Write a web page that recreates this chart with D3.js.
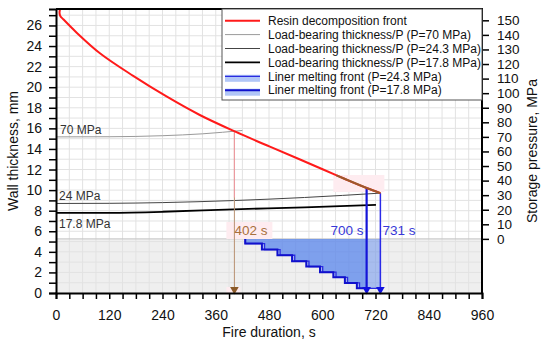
<!DOCTYPE html>
<html><head><meta charset="utf-8">
<script src="https://cdn.jsdelivr.net/npm/d3@7"></script>
<style>body{margin:0;background:#fff}svg{font-family:"Liberation Sans",Arial,sans-serif}</style>
</head><body><svg id="c" width="550" height="344"></svg>
<script>
// ---- data ----
const xTicks = [0,120,240,360,480,600,720,840,960];
const yTicks = [0,2,4,6,8,10,12,14,16,18,20,22,24,26];
const pTicks = [0,10,20,30,40,50,60,70,80,90,100,110,120,130,140,150];
const linerThickness = 5.26; // mm, pressure 0 level
// Resin decomposition front [s, mm]
const resinT = [9,8,10,16.5,46.6,99,174,249,324,403,482,546,602,650,700,731];
const resinY = [27.6,27.2,26.9,26.6,25.3,23.3,21.1,19.1,17.3,15.7,14.22,13.05,12.0,11.1,10.2,9.71];
// Load-bearing thickness/P [s, MPa]
const lb70T = [0,120,240,330,420];
const lb70P = [70,70.1,70.8,72.1,74.4];
const lb243T = [0,120,240,400,560,731];
const lb243P = [24.3,24.4,24.9,26.3,28.4,31.4];
const lb178T = [0,120,240,400,560,721];
const lb178P = [17.8,17.9,18.6,20.3,21.6,23.4];
// Liner melting front (step) [s, mm]
const melt178T = [426.5,426.5,464,499,532,564,595,625,651,678,700];
const melt178Y = [5.26,4.80,4.22,3.67,3.09,2.57,2.02,1.52,0.98,0.45,0.45];
const melt243T = [426.5,426.5,470,505,538,570,601,631,657,684,731];
const melt243Y = [5.26,4.80,4.22,3.67,3.09,2.57,2.02,1.52,0.98,0.45,0.45];
const failTimes = [402,700,731];
const failLabels = ["402 s","700 s","731 s"];
const legendLabels = ["Resin decomposition front","Load-bearing thickness/P (P=70 MPa)","Load-bearing thickness/P (P=24.3 MPa)","Load-bearing thickness/P (P=17.8 MPa)","Liner melting front (P=24.3 MPa)","Liner melting front (P=17.8 MPa)"];
const pLabels = ["70 MPa","24 MPa","17.8 MPa"];

// ---- layout ----
const svg = d3.select("#c");
const L=56,R=482,T=9,B=293;
const x = d3.scaleLinear([0,960],[L,R]);
const y = d3.scaleLinear([0,27.6],[B,T]);
const yR = d3.scaleLinear([0,150],[y(linerThickness), y(26.5)]);
const zip=(a,b)=>a.map((v,i)=>[v,b[i]]);
const resin = zip(resinT,resinY);
function interp(pts,t){
  const s = pts.filter(p=>p[0]>=16);
  for(let i=0;i<s.length-1;i++){ if(t>=s[i][0]&&t<=s[i+1][0]){const f=(t-s[i][0])/(s[i+1][0]-s[i][0]);return s[i][1]+f*(s[i+1][1]-s[i][1]);} }
  return s[s.length-1][1];
}

// background band
svg.append("rect").attr("x",L).attr("y",y(linerThickness)).attr("width",R-L).attr("height",B-y(linerThickness)).attr("fill","#efefef");
// grid
const g = svg.append("g").attr("stroke","#e2e2e2").attr("stroke-width",1);
d3.range(30,960,30).forEach(v=>g.append("line").attr("x1",x(v)).attr("x2",x(v)).attr("y1",T).attr("y2",B));
d3.range(1,28,1).forEach(v=>g.append("line").attr("x1",L).attr("x2",R).attr("y1",y(v)).attr("y2",y(v)));
svg.append("line").attr("x1",L).attr("x2",R).attr("y1",y(linerThickness)).attr("y2",y(linerThickness)).attr("stroke","#c4c4c4");

// pink highlights
const pink="#feecf0";
svg.append("rect").attr("x",x(402)-8).attr("y",222).attr("width",46).attr("height",17).attr("fill",pink);
svg.append("rect").attr("x",x(402)-8).attr("y",B-6).attr("width",14).attr("height",6).attr("fill",pink);
svg.append("rect").attr("x",x(625)).attr("y",y(interp(resin,700))-13).attr("width",x(731)-x(625)+4).attr("height",17).attr("fill",pink);

// liner melting areas
const area = d3.area().x(d=>x(d[0])).y0(y(linerThickness)).y1(d=>y(d[1])).curve(d3.curveStepAfter);
const line = d3.line().x(d=>x(d[0])).y(d=>y(d[1]));
const m178 = zip(melt178T,melt178Y), m243 = zip(melt243T,melt243Y);
const fillC = "rgba(70,120,235,0.42)";
svg.append("path").attr("d",area(m243)).attr("fill",fillC);
svg.append("path").attr("d",area(m178)).attr("fill",fillC);
const stepLine = d3.line().x(d=>x(d[0])).y(d=>y(d[1])).curve(d3.curveStepAfter);
svg.append("path").attr("d",stepLine(m243)).attr("fill","none").attr("stroke","#2a2ae0").attr("stroke-width",1.3);
svg.append("path").attr("d",stepLine(m178)).attr("fill","none").attr("stroke","#1010cc").attr("stroke-width",2);

// load-bearing lines (in MPa on right scale)
const pline = d3.line().x(d=>x(d[0])).y(d=>yR(d[1])).curve(d3.curveMonotoneX);
svg.append("path").attr("d",pline(zip(lb70T,lb70P))).attr("fill","none").attr("stroke","#9a9a9a").attr("stroke-width",1);
svg.append("path").attr("d",pline(zip(lb243T,lb243P))).attr("fill","none").attr("stroke","#444").attr("stroke-width",1);
svg.append("path").attr("d",pline(zip(lb178T,lb178P))).attr("fill","none").attr("stroke","#000").attr("stroke-width",1.8);

// vertical failure lines
const tri = d3.symbol().type(d3.symbolTriangle).size(32);
const v402top = interp(resin,402);
svg.append("line").attr("x1",x(402)).attr("x2",x(402)).attr("y1",y(v402top)).attr("y2",B-4).attr("stroke","#b89070").attr("stroke-width",1);
svg.append("line").attr("x1",x(402)).attr("x2",x(402)).attr("y1",y(v402top)).attr("y2",yR(26.3)-3).attr("stroke","#f29aa4").attr("stroke-width",1);
svg.append("path").attr("d",tri()).attr("transform",`translate(${x(402)},${B-3.5}) rotate(180)`).attr("fill","#8a5a28");
[[700,2.2,"#1414d8"],[731,1.5,"#2a2ae8"]].forEach(([t,w,c])=>{
  svg.append("line").attr("x1",x(t)).attr("x2",x(t)).attr("y1",y(interp(resin,t))).attr("y2",B-4).attr("stroke",c).attr("stroke-width",w);
  svg.append("path").attr("d",tri()).attr("transform",`translate(${x(t)},${B-3.5}) rotate(180)`).attr("fill","#1010e0");
});

// resin curve
const curveLine = d3.line().x(d=>x(d[0])).y(d=>y(d[1])).curve(d3.curveCatmullRom.alpha(0.5));
svg.append("path").attr("d",curveLine(resin)).attr("fill","none").attr("stroke","#ff1a1a").attr("stroke-width",2);
const brown = [[632,interp(resin,632)]].concat(resin.filter(d=>d[0]>632));
svg.append("path").attr("d",line(brown)).attr("fill","none").attr("stroke","#9c5a2c").attr("stroke-width",2);

// annotation labels
svg.append("text").attr("x",60).attr("y",yR(70)-3).attr("font-size",12).attr("fill","#333").text(pLabels[0]);
svg.append("text").attr("x",59).attr("y",yR(24.3)-3).attr("font-size",12).attr("fill","#333").text(pLabels[1]);
svg.append("text").attr("x",59).attr("y",yR(17.8)+15).attr("font-size",12).attr("fill","#333").text(pLabels[2]);
svg.append("text").attr("x",x(failTimes[0])).attr("y",235).attr("font-size",13.5).attr("fill","#a8703c").text(failLabels[0]);
svg.append("text").attr("x",x(failTimes[1])-3).attr("y",235).attr("text-anchor","end").attr("font-size",13.5).attr("fill","#3838d8").text(failLabels[1]);
svg.append("text").attr("x",x(failTimes[2])+2).attr("y",235).attr("font-size",13.5).attr("fill","#3838d8").text(failLabels[2]);

// axes
const ax = svg.append("g").attr("transform",`translate(0,${B})`)
  .call(d3.axisBottom(x).tickValues(d3.range(0,961,30)).tickFormat(d=>xTicks.includes(d)?d:"").tickSize(6).tickPadding(11));
const ay = svg.append("g").attr("transform",`translate(${L},0)`)
  .call(d3.axisLeft(y).tickValues(d3.range(0,28,1)).tickFormat(d=>yTicks.includes(d)?d:"").tickSize(7).tickPadding(7));
const ar = svg.append("g").attr("transform",`translate(${R},0)`)
  .call(d3.axisRight(yR).tickValues(pTicks).tickSize(7).tickPadding(8));
[ax,ay,ar].forEach(a=>{a.selectAll("text").attr("font-size",14).attr("fill","#111").attr("font-family","Liberation Sans, Arial, sans-serif");a.selectAll(".tick line").attr("stroke","#000").attr("stroke-width",1.5);});
ar.selectAll("text").attr("font-size",13.5);
ar.select(".domain").remove();
ax.select(".domain").attr("stroke-width",2);
ay.select(".domain").attr("stroke-width",2);
// frame top/right
svg.append("line").attr("x1",L).attr("x2",R+1).attr("y1",T).attr("y2",T).attr("stroke","#000").attr("stroke-width",2);
svg.append("line").attr("x1",R).attr("x2",R).attr("y1",T).attr("y2",B).attr("stroke","#000").attr("stroke-width",2);

// axis titles
svg.append("text").attr("x",(L+R)/2).attr("y",337).attr("text-anchor","middle").attr("font-size",14).attr("fill","#111").text("Fire duration, s");
svg.append("text").attr("transform",`translate(18,${(T+B)/2}) rotate(-90)`).attr("text-anchor","middle").attr("font-size",14).attr("fill","#111").text("Wall thickness, mm");
svg.append("text").attr("transform",`translate(537,${(T+B)/2}) rotate(-90)`).attr("text-anchor","middle").attr("font-size",14).attr("fill","#111").text("Storage pressure, MPa");

// legend
const lg = svg.append("g");
lg.append("rect").attr("x",222).attr("y",T).attr("width",R-222).attr("height",100-T).attr("fill","#fff").attr("stroke","#555").attr("stroke-width",1);
const sty = [["#ff1a1a",2,false],["#9a9a9a",1,false],["#444",1,false],["#000",1.8,false],["#2a2ae0",1.3,true],["#1010cc",2,true]];
legendLabels.forEach((lab,i)=>{
  const yy = 20.7 + i*13.9;
  if(sty[i][2]) lg.append("rect").attr("x",225).attr("y",yy-1.5).attr("width",35).attr("height",7).attr("fill","rgba(70,120,235,0.42)");
  lg.append("line").attr("x1",225).attr("x2",260).attr("y1",yy).attr("y2",yy).attr("stroke",sty[i][0]).attr("stroke-width",sty[i][1]);
  lg.append("text").attr("x",268).attr("y",yy).attr("dy","0.35em").attr("font-size",12).attr("fill","#111").text(lab);
});
</script></body></html>
